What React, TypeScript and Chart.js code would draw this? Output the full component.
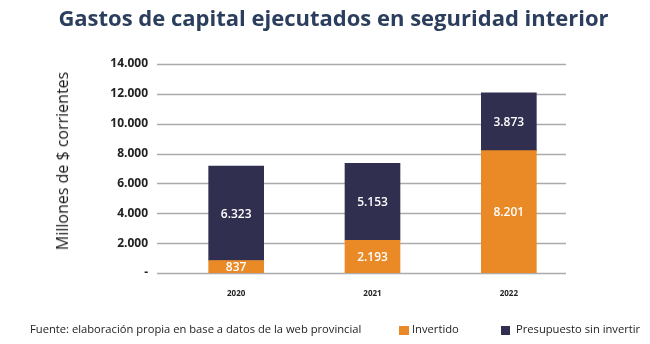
import React, { useEffect, useRef } from "react";
import { Chart, registerables } from "chart.js";

Chart.register(...registerables);

const categories = ["2020", "2021", "2022"];
const invertido = [837, 2193, 8201];
const sinInvertir = [6323, 5153, 3873];
const yMax = 14000;
const yStep = 2000;

const ORANGE = "#E98A26";
const NAVY = "#312F50";
const FONT = "'Open Sans', sans-serif";

const fmt = (v: number) =>
  v === 0 ? "-" : Math.round(v).toString().replace(/\B(?=(\d{3})+(?!\d))/g, ".");

const gridPlugin = {
  id: "customGrid",
  beforeDatasetsDraw(chart: any) {
    const { ctx } = chart;
    const y = chart.scales.y;
    ctx.save();
    ctx.strokeStyle = "#ababab";
    ctx.lineWidth = 1.5;
    y.ticks.forEach((t: any) => {
      const py = Math.round(y.getPixelForValue(t.value)) + 0.5;
      ctx.beginPath();
      ctx.moveTo(157, py);
      ctx.lineTo(566, py);
      ctx.stroke();
    });
    ctx.restore();
  },
};

const labelPlugin = {
  id: "barLabels",
  afterDatasetsDraw(chart: any) {
    const { ctx } = chart;
    ctx.save();
    ctx.fillStyle = "#ffffff";
    ctx.font = `600 12px ${FONT}`;
    ctx.textAlign = "center";
    ctx.textBaseline = "middle";
    chart.data.datasets.forEach((ds: any, di: number) => {
      const meta = chart.getDatasetMeta(di);
      meta.data.forEach((bar: any, i: number) => {
        const v = ds.data[i];
        const cy = (bar.y + bar.base) / 2;
        ctx.fillText(fmt(v), bar.x, cy + 1);
      });
    });
    ctx.restore();
  },
};

export default function App() {
  const ref = useRef<HTMLCanvasElement>(null);

  useEffect(() => {
    document.body.style.margin = "0";
    const chart = new Chart(ref.current!, {
      type: "bar",
      data: {
        labels: categories,
        datasets: [
          {
            label: "Invertido",
            data: invertido,
            backgroundColor: ORANGE,
            barThickness: 55,
          },
          {
            label: "Presupuesto sin invertir",
            data: sinInvertir,
            backgroundColor: NAVY,
            barThickness: 55,
          },
        ],
      },
      options: {
        animation: false,
        responsive: false,
        maintainAspectRatio: false,
        layout: { padding: { top: 64, right: 73, bottom: 0, left: 0 } },
        plugins: {
          legend: { display: false },
          title: { display: false },
          tooltip: { enabled: false },
        },
        scales: {
          x: {
            stacked: true,
            grid: { display: false, drawTicks: false },
            border: { display: false },
            ticks: {
              padding: 16,
              color: "#222",
              font: { family: FONT, size: 8, weight: "bold" },
            },
            afterFit(scale: any) {
              scale.height = 71;
            },
          },
          y: {
            stacked: true,
            min: 0,
            max: yMax,
            grid: { display: false, drawTicks: false },
            border: { display: false },
            ticks: {
              stepSize: yStep,
              padding: 20,
              color: "#222",
              font: { family: FONT, size: 12, weight: "bold" },
              callback: (v: any) => fmt(Number(v)),
            },
            afterFit(scale: any) {
              scale.width = 168;
            },
          },
        },
      },
      plugins: [gridPlugin, labelPlugin],
    });
    return () => chart.destroy();
  }, []);

  return (
    <div style={{ position: "fixed", left: 0, top: 0, width: 650, height: 344, background: "#fff", fontFamily: FONT }}>
      <canvas ref={ref} width={650} height={344} style={{ position: "absolute", left: 0, top: 0 }} />
      <div
        style={{
          position: "absolute",
          left: 0,
          top: 2,
          width: 667,
          textAlign: "center",
          fontSize: 22,
          fontWeight: 700,
          color: "#2B3E5E",
          whiteSpace: "nowrap",
        }}
      >
        Gastos de capital ejecutados en seguridad interior
      </div>
      <div
        style={{
          position: "absolute",
          left: 62,
          top: 161,
          transform: "translate(-50%, -50%) rotate(-90deg)",
          fontSize: 16,
          color: "#1a1a1a",
          whiteSpace: "nowrap",
        }}
      >
        Millones de $ corrientes
      </div>
      <div style={{ position: "absolute", left: 30, top: 321, fontSize: 11.2, color: "#222", whiteSpace: "nowrap" }}>
        Fuente: elaboración propia en base a datos de la web provincial
      </div>
      <div style={{ position: "absolute", left: 399, top: 326, width: 10, height: 9, background: ORANGE }} />
      <div style={{ position: "absolute", left: 412, top: 321, fontSize: 11.2, color: "#222", whiteSpace: "nowrap" }}>
        Invertido
      </div>
      <div style={{ position: "absolute", left: 501, top: 326, width: 9, height: 9, background: NAVY }} />
      <div style={{ position: "absolute", left: 516, top: 321, fontSize: 11.2, color: "#222", whiteSpace: "nowrap" }}>
        Presupuesto sin invertir
      </div>
    </div>
  );
}
